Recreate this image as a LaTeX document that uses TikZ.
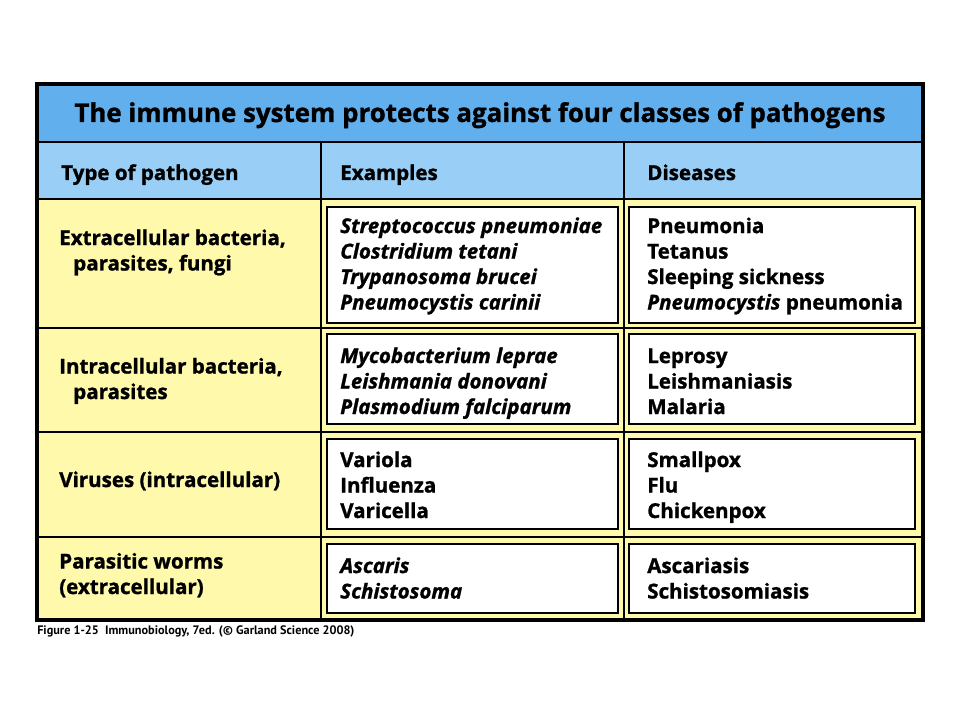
\documentclass[tikz,border=0pt]{standalone}
\usepackage{fontspec}
\setmainfont{Open Sans}[BoldFeatures={FakeBold=1.2},BoldItalicFeatures={FakeBold=1.2}]
\newfontfamily\footfont{PT Sans}
\usetikzlibrary{positioning}

\definecolor{titleblue}{RGB}{98,175,238}
\definecolor{headblue}{RGB}{153,207,246}
\definecolor{cellyellow}{RGB}{255,249,172}

\tikzset{
  cell/.style={anchor=base west, align=left, inner sep=0pt,
    font=\bfseries\fontsize{15.4}{19.1}\selectfont},
  whitebox/.style={draw=black, line width=2pt, fill=white},
  gridline/.style={draw=black, line width=2pt}
}

\begin{document}
\begin{tikzpicture}[x=0.75pt,y=-0.75pt]
        \useasboundingbox (0,0) rectangle (960,720);
        % bands
        \fill[titleblue] (37,84) rectangle (923,142);
        \fill[headblue] (37,142) rectangle (923,199);
        \fill[cellyellow] (37,199) rectangle (923,620);
        % white boxes
        \draw[whitebox] (327,207) rectangle (618,323);
        \draw[whitebox] (629,207) rectangle (915,323);
        \draw[whitebox] (327,334) rectangle (618,424);
        \draw[whitebox] (629,334) rectangle (915,424);
        \draw[whitebox] (327,439) rectangle (618,529);
        \draw[whitebox] (629,439) rectangle (915,529);
        \draw[whitebox] (327,544) rectangle (618,613);
        \draw[whitebox] (629,544) rectangle (915,613);
        % grid
        \draw[gridline] (37,142) -- (923,142);
        \draw[gridline] (37,199) -- (923,199);
        \draw[gridline] (37,328) -- (923,328);
        \draw[gridline] (37,432) -- (923,432);
        \draw[gridline] (37,537) -- (923,537);
        \draw[gridline] (321,142) -- (321,620);
        \draw[gridline] (624,142) -- (624,620);
        \draw[line width=2.4pt] (37,84) rectangle (923,620);
        % title and headers (base = last line)
        \node [cell, anchor=base, font=\bfseries\fontsize{19.4}{22}\selectfont] (title) at (480,122)
            {The immune system protects against four classes of pathogens};
        \node [cell] (typehead) at (61,180) {Type of pathogen};
        \node [cell] (exhead) at (340,180) {Examples};
        \node [cell] (dishead) at (647,180) {Diseases};
        % type of pathogen
        \node [cell] (type1) at (59,270.5) {Extracellular bacteria,\\\hspace{10.5pt}parasites, fungi};
        \node [cell] (type2) at (59,399) {Intracellular bacteria,\\\hspace{10.5pt}parasites};
        \node [cell] (type3) at (59,487) {Viruses (intracellular)};
        \node [cell] (type4) at (59,594) {Parasitic worms\\(extracellular)};
        % examples
        \node [cell] (ex1) at (340,309.5) {\itshape Streptococcus pneumoniae\\\itshape Clostridium tetani\\\itshape Trypanosoma brucei\\\itshape Pneumocystis carinii};
        \node [cell] (ex2) at (340,414) {\itshape Mycobacterium leprae\\\itshape Leishmania donovani\\\itshape Plasmodium falciparum};
        \node [cell] (ex3) at (340,518) {Variola\\Influenza\\Varicella};
        \node [cell] (ex4) at (340,598.5) {\itshape Ascaris\\\itshape Schistosoma};
        % diseases
        \node [cell] (dis1) at (647,309.5) {Pneumonia\\Tetanus\\Sleeping sickness\\\textit{Pneumocystis} pneumonia};
        \node [cell] (dis2) at (647,414) {Leprosy\\Leishmaniasis\\Malaria};
        \node [cell] (dis3) at (647,518) {Smallpox\\Flu\\Chickenpox};
        \node [cell] (dis4) at (647,598.5) {Ascariasis\\Schistosomiasis};
        % credit line
        \node [cell, font=\footfont\bfseries\fontsize{9.2}{11}\selectfont] (credit) at (37,634)
            {Figure 1-25\ \ Immunobiology, 7ed. (© Garland Science 2008)};
\end{tikzpicture}
\end{document}
